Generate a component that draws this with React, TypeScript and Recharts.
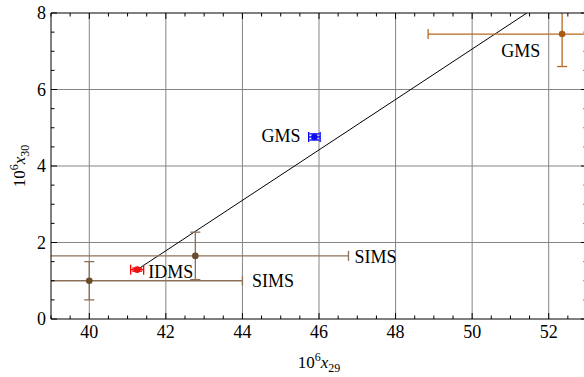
import React from "react";
import { ComposedChart, Scatter, Line, XAxis, YAxis, CartesianGrid, ErrorBar } from "recharts";

// measurements: 10^6 x29 vs 10^6 x30
const sources = ["SIMS", "SIMS", "IDMS", "GMS", "GMS"];
const x29 = [40.0, 42.77, 41.25, 45.88, 52.35];
const x30 = [1.0, 1.65, 1.29, 4.76, 7.45];
const x29Err = [4.0, 4.0, 0.17, 0.15, 3.5];
const x30Err = [0.5, 0.62, 0.04, 0.08, 0.85];

// annotation positions (data coords)
const labelText = ["SIMS", "SIMS", "IDMS", "GMS", "GMS"];
const labelX = [44.25, 46.93, 41.54, 45.52, 50.76];
const labelY = [1.0, 1.62, 1.24, 4.78, 7.0];
const labelAnchor = ["start", "start", "start", "end", "start"];

// fit line
const fitX = [41.25, 51.43];
const fitY = [1.29, 8.0];

const xMajor = [40, 42, 44, 46, 48, 50, 52];
const yMajor = [0, 2, 4, 6, 8];
const xMinor = Array.from({ length: 29 }, (_, i) => 39 + i * 0.5);
const yMinor = Array.from({ length: 17 }, (_, i) => i * 0.5);

const dotColors = ["#6b4b2b", "#6b4b2b", "#ee1111", "#1010ee", "#a85c12"];
const barColors = ["#8c7058", "#8c7058", "#ff0000", "#0000ff", "#b8691f"];

const FONT = "'Liberation Serif', 'DejaVu Serif', serif";

const points = x29.map((x, i) => ({ x, y: x30[i], ex: x29Err[i], ey: x30Err[i], src: sources[i] }));
const labels = labelText.map((t, i) => ({ x: labelX[i], y: labelY[i], text: t, anchor: labelAnchor[i] }));
const fitData = fitX.map((x, i) => ({ x, fy: fitY[i] }));

function BottomTick({ x, y, payload }: any) {
  const v = payload.value;
  const major = xMajor.includes(v);
  return (
    <g>
      <line x1={x} x2={x} y1={y} y2={y - (major ? 6 : 3.5)} stroke="#000" strokeWidth={1} />
      {major && (
        <text x={x} y={y + 19} textAnchor="middle" fontFamily={FONT} fontSize={18} fill="#000">
          {v}
        </text>
      )}
    </g>
  );
}

function TopTick({ x, y, payload }: any) {
  const major = xMajor.includes(payload.value);
  return <line x1={x} x2={x} y1={y} y2={y + (major ? 6 : 3.5)} stroke="#000" strokeWidth={1} />;
}

function LeftTick({ x, y, payload }: any) {
  const v = payload.value;
  const major = yMajor.includes(v);
  return (
    <g>
      <line x1={x} x2={x + (major ? 6 : 3.5)} y1={y} y2={y} stroke="#000" strokeWidth={1} />
      {major && (
        <text x={x - 5} y={y + 6} textAnchor="end" fontFamily={FONT} fontSize={18} fill="#000">
          {v}
        </text>
      )}
    </g>
  );
}

function RightTick({ x, y, payload }: any) {
  const major = yMajor.includes(payload.value);
  return <line x1={x} x2={x - (major ? 6 : 3.5)} y1={y} y2={y} stroke="#000" strokeWidth={1} />;
}

function XTitle({ viewBox }: any) {
  const cx = viewBox.x + viewBox.width / 2;
  return (
    <text x={cx} y={viewBox.y + 49} textAnchor="middle" fontFamily={FONT} fontSize={17} fill="#000">
      10
      <tspan dy={-7} fontSize={12}>6</tspan>
      <tspan dy={7} fontStyle="italic" fontSize={17}>x</tspan>
      <tspan dy={4} fontSize={12}>29</tspan>
    </text>
  );
}

function YTitle({ viewBox }: any) {
  const cx = 25;
  const cy = viewBox.y + viewBox.height / 2;
  return (
    <text
      x={cx}
      y={cy}
      textAnchor="middle"
      transform={`rotate(-90, ${cx}, ${cy})`}
      fontFamily={FONT}
      fontSize={17}
      fill="#000"
    >
      10
      <tspan dy={-7} fontSize={12}>6</tspan>
      <tspan dy={7} fontStyle="italic" fontSize={17}>x</tspan>
      <tspan dy={4} fontSize={12}>30</tspan>
    </text>
  );
}

function LabelShape(p: any) {
  return (
    <text
      x={p.cx}
      y={p.cy}
      dy={6}
      textAnchor={p.payload.anchor}
      fontFamily={FONT}
      fontSize={18}
      fill="#000"
    >
      {p.payload.text}
    </text>
  );
}

export default function App() {
  return (
    <div style={{ position: "absolute", left: 0, top: 0, width: 584, height: 377, overflow: "hidden", background: "#fff" }}>
      <style>{`.recharts-errorBar { clip-path: url(#plotArea); }`}</style>
      <svg width={0} height={0} style={{ position: "absolute" }}>
        <defs>
          <clipPath id="plotArea" clipPathUnits="userSpaceOnUse">
            <rect x={51} y={13} width={536} height={306} />
          </clipPath>
        </defs>
      </svg>
      <ComposedChart width={588} height={377} margin={{ top: 12, right: 0, bottom: 0, left: 0 }}>
        <CartesianGrid
          stroke="#858585"
          strokeWidth={1}
          horizontalValues={[2, 4, 6]}
          verticalValues={xMajor}
        />
        <XAxis
          dataKey="x"
          type="number"
          domain={[39, 53]}
          allowDataOverflow
          ticks={xMinor}
          interval={0}
          tickSize={0}
          tickMargin={0}
          tickLine={false}
          tick={<BottomTick />}
          height={58}
          axisLine={{ stroke: "#000" }}
          label={<XTitle />}
        />
        <XAxis
          xAxisId="top"
          orientation="top"
          dataKey="x"
          type="number"
          domain={[39, 53]}
          allowDataOverflow
          ticks={xMinor}
          interval={0}
          tickSize={0}
          tickMargin={0}
          tickLine={false}
          tick={<TopTick />}
          height={1}
          axisLine={{ stroke: "#000" }}
        />
        <YAxis
          dataKey="y"
          type="number"
          domain={[0, 8]}
          allowDataOverflow
          ticks={yMinor}
          interval={0}
          tickSize={0}
          tickMargin={0}
          tickLine={false}
          tick={<LeftTick />}
          width={51}
          axisLine={{ stroke: "#000" }}
          label={<YTitle />}
        />
        <YAxis
          yAxisId="right"
          orientation="right"
          type="number"
          domain={[0, 8]}
          allowDataOverflow
          ticks={yMinor}
          interval={0}
          tickSize={0}
          tickMargin={0}
          tickLine={false}
          tick={<RightTick />}
          width={1}
          axisLine={{ stroke: "#000" }}
        />
        <Line
          data={fitData}
          dataKey="fy"
          type="linear"
          stroke="#000"
          strokeWidth={1}
          dot={false}
          activeDot={false}
          isAnimationActive={false}
        />
        {points.map((pt, i) => (
          <Scatter
            key={i}
            data={[pt]}
            isAnimationActive={false}
            shape={(p: any) => <circle cx={p.cx} cy={p.cy} r={3.3} fill={dotColors[i]} />}
          >
            <ErrorBar dataKey="ex" direction="x" width={5} stroke={barColors[i]} strokeWidth={1.3} isAnimationActive={false} />
            <ErrorBar dataKey="ey" direction="y" width={5} stroke={barColors[i]} strokeWidth={1.3} isAnimationActive={false} />
          </Scatter>
        ))}
        <Scatter data={labels} isAnimationActive={false} shape={LabelShape} />
      </ComposedChart>
    </div>
  );
}
